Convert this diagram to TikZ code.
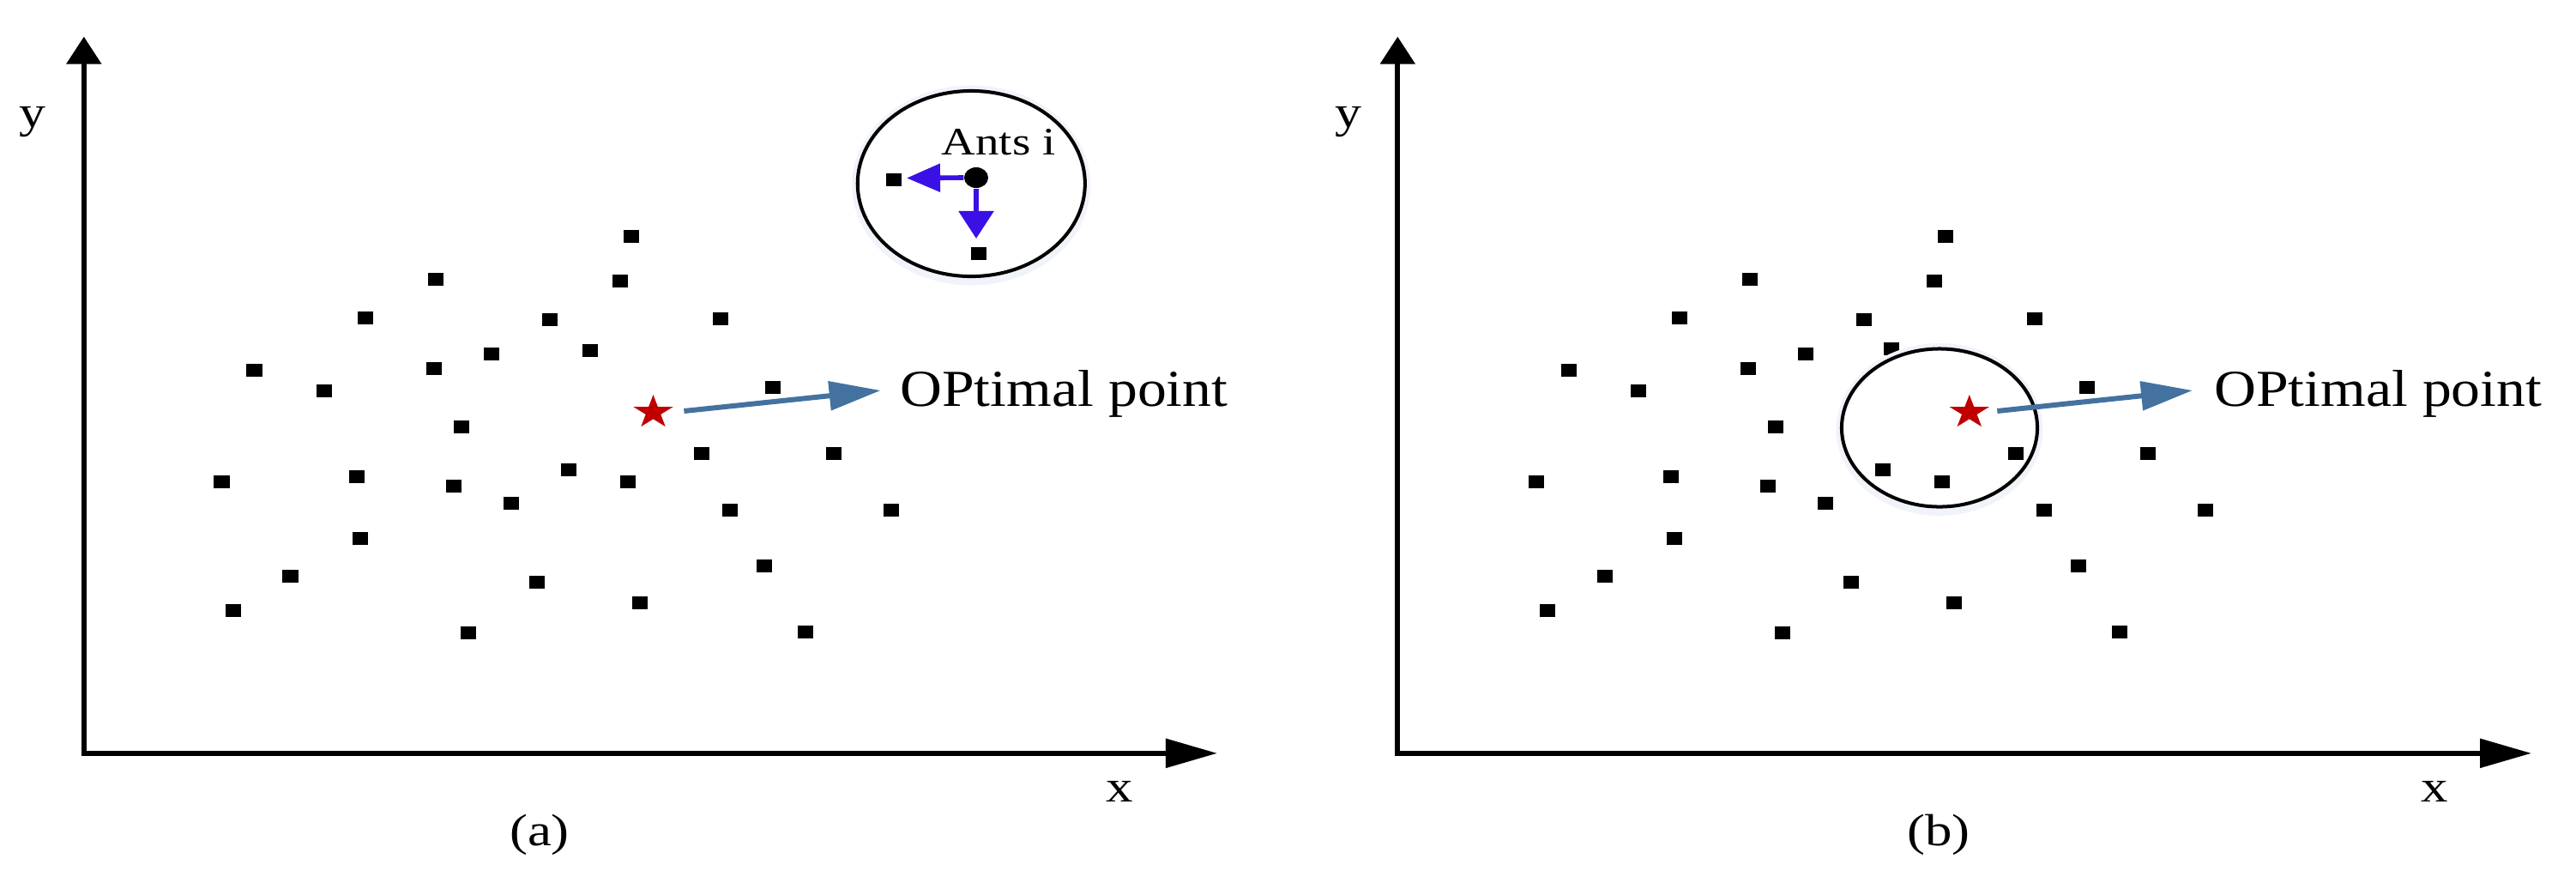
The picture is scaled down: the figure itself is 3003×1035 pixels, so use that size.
\documentclass[tikz,border=0pt]{standalone}
\usepackage{fontspec}
\setmainfont{Liberation Serif}
\usepackage{graphicx}
\usetikzlibrary{arrows.meta,shapes.geometric}
\definecolor{antblue}{RGB}{58,16,230}
\definecolor{optblue}{RGB}{68,114,160}
\definecolor{starred}{RGB}{192,0,0}
\definecolor{glow}{RGB}{240,243,250}
\newcommand\axfont{\fontsize{14.9pt}{17pt}\selectfont}
\newcommand\optfont{\fontsize{17.2pt}{19pt}\selectfont}
\newcommand\antfont{\fontsize{12.9pt}{14pt}\selectfont}
\newcommand\mystar[1]{%
  \fill[starred, shift={(#1)}, xscale=1.18]
    (270:20.5) -- (306:7.83) -- (342:20.5) -- (18:7.83) -- (54:20.5) --
    (90:7.83) -- (126:20.5) -- (162:7.83) -- (198:20.5) -- (234:7.83) -- cycle;}
\tikzset{
  axis/.style={line width=1.62pt, line join=miter},
  sq/.style={fill=black, inner sep=0pt, minimum width=0.18cm, minimum height=0.15cm},
  lbl/.style={inner sep=0pt, anchor=base},
  ring/.style={draw=black, line width=1.14pt, ellipse, inner sep=0pt},
  halo/.style={draw=glow, line width=2.5pt, ellipse, inner sep=0pt},
  optarrow/.style={draw=optblue, line width=1.7pt, -{Triangle[length=0.6cm,width=0.33cm]}},
  antarrow/.style={draw=antblue, line width=1.6pt},
}
\begin{document}
\begin{tikzpicture}[x=0.01cm, y=-0.01cm]
\useasboundingbox (0,0) rectangle (3003,1035);

% ---------------- panel (a) ----------------
\coordinate (aO) at (97.8,877.8);
\coordinate (aY) at (97.8,42.7);
\coordinate (aX) at (1419,877.8);
\draw[axis, {Triangle[length=0.32cm,width=0.40cm]}-{Triangle[length=0.6cm,width=0.33cm]}] (aY) -- (aO) -- (aX);
\node[lbl] (ya) at (38,148.5) {\scalebox{1.18}[1]{\axfont y}};
\node[lbl] (xa) at (1305,934) {\scalebox{1.2}[1]{\axfont x}};
\node[lbl] (capa) at (629,985) {\scalebox{1.2}[1]{\axfont (a)}};

% ants circle
\node[halo, minimum width=2.69cm, minimum height=2.24cm] (haloA) at (1132.3,216) {};
\node[ring, minimum width=2.65cm, minimum height=2.16cm] (antsRing) at (1132.3,214) {};
\node[lbl, anchor=base west] (antsTxt) at (1097,180) {\scalebox{1.21}[1]{\antfont Ants i}};
\node[sq] (antL) at (1042,209.5) {};
\node[sq] (antD) at (1140.5,295) {};
\node[fill=black, ellipse, inner sep=0pt, minimum width=0.28cm, minimum height=0.24cm] (ant) at (1138,207) {};
\coordinate (antLtip) at (1057,207.5);
\coordinate (antDtip) at (1138,278);
\draw[antarrow, -{Triangle[length=0.39cm,width=0.32cm]}] (ant.west) -- (antLtip);
\draw[antarrow, -{Triangle[length=0.32cm,width=0.40cm]}] (ant.south) -- (antDtip);

% dots
\foreach \px/\py [count=\i] in {736/275, 508/325, 723/327, 426/370, 641/372, 840/371,
  572.5/412, 296.5/431, 506/429.5, 378/455, 901/451.5, 538/497.5, 818/528, 972/528,
  258.5/561, 415.5/555, 528.5/566.5, 663/547, 731.5/561, 596/586, 851/594, 1039/594,
  420/627, 338.5/671, 625.5/678, 891/659.5, 272/711.5, 745.5/702, 546/737, 939/736.5}{
  \node[sq] (a\i) at (\px,\py) {};
  \node[sq] (b\i) at ({\px+1532},\py) {};
}
\node[sq] (a31) at (687.5,408.5) {};
\node[sq] (b31) at (2205,406) {};

% optimal point (a)
\coordinate (starA) at (761.5,480.5);
\mystar{starA}
\coordinate (optAs) at (797.4,479);
\coordinate (optAe) at (1026.7,455);
\draw[optarrow] (optAs) -- (optAe);
\node[lbl, anchor=base west] (optA) at (1048.7,473) {\scalebox{1.12}[1]{\optfont OPtimal point}};

% ---------------- panel (b) ----------------
\coordinate (bO) at (1629.3,877.8);
\coordinate (bY) at (1629.3,42.7);
\coordinate (bX) at (2951,877.8);
\draw[axis, {Triangle[length=0.32cm,width=0.40cm]}-{Triangle[length=0.6cm,width=0.33cm]}] (bY) -- (bO) -- (bX);
\node[lbl] (yb) at (1572,148.5) {\scalebox{1.18}[1]{\axfont y}};
\node[lbl] (xb) at (2838,934) {\scalebox{1.2}[1]{\axfont x}};
\node[lbl] (capb) at (2260,985) {\scalebox{1.2}[1]{\axfont (b)}};

\node[halo, minimum width=2.32cm, minimum height=1.92cm] (haloB) at (2261,500.5) {};
\node[ring, minimum width=2.28cm, minimum height=1.84cm] (bestRing) at (2261,498.5) {};

\coordinate (starB) at (2295.8,480.5);
\mystar{starB}
\coordinate (optBs) at (2328.3,479);
\coordinate (optBe) at (2556,455);
\draw[optarrow] (optBs) -- (optBe);
\node[lbl, anchor=base west] (optB) at (2580.5,473) {\scalebox{1.12}[1]{\optfont OPtimal point}};
\end{tikzpicture}
\end{document}
